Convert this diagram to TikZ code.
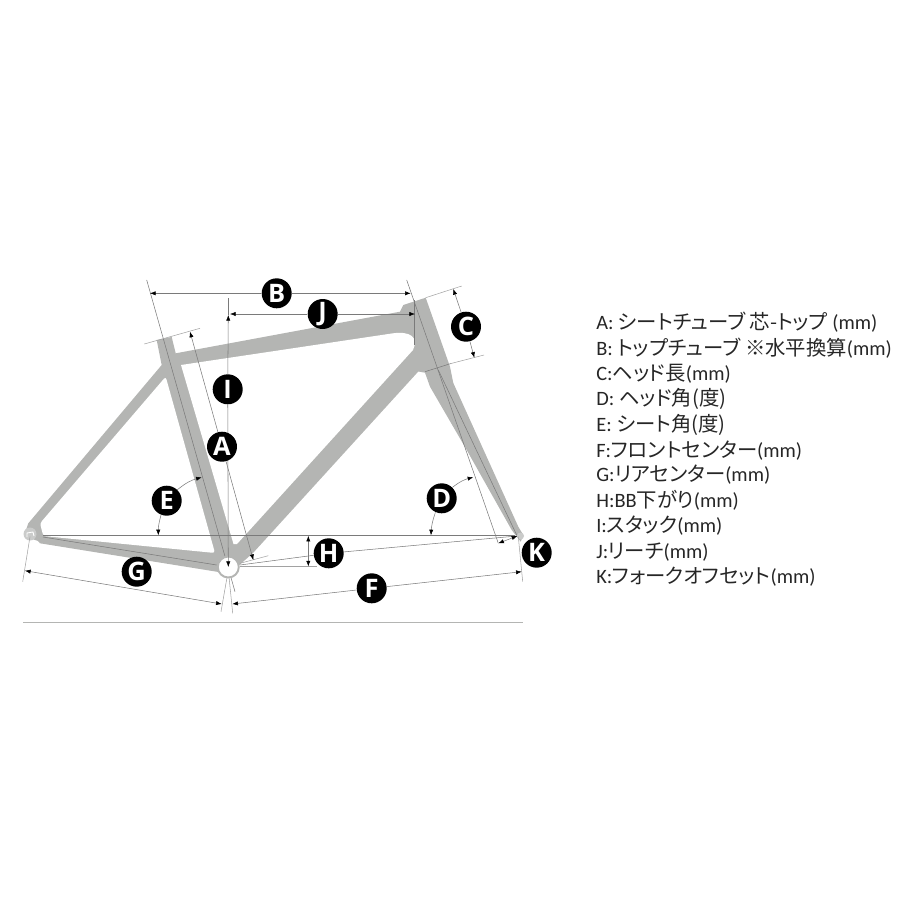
\documentclass[tikz,border=0pt]{standalone}
\usepackage{fontspec}
\setmainfont{Carlito}
\newfontfamily\jpfont[RawFeature=+palt]{Noto Sans CJK JP}
\newfontfamily\badgefont{Open Sans}
\usetikzlibrary{positioning, calc, arrows.meta}
\definecolor{framegray}{HTML}{B4B5B3}
\definecolor{linegray}{HTML}{7A7A7A}
\tikzset{
  badge/.style={circle, fill=black, text=white, minimum size=0.6cm, inner sep=0pt, font=\badgefont\bfseries\fontsize{14.5}{14.5}\selectfont},
  axisline/.style={draw=linegray, line width=0.3pt},
  tickline/.style={draw=linegray!70, line width=0.3pt},
  dimline/.style={draw=linegray, line width=0.3pt, -{Latex[length=3.2pt,width=2.4pt,black]}},
  dimboth/.style={draw=linegray, line width=0.3pt, {Latex[length=3.2pt,width=2.4pt,black]}-{Latex[length=3.2pt,width=2.4pt,black]}},
  spec/.style={anchor=west, inner sep=0pt, text=black!85, font=\fontsize{11.6}{13}\selectfont}
}
\newcommand{\jp}[1]{{\jpfont #1}}
\begin{document}
\begin{tikzpicture}[x=0.02cm,y=-0.02cm]
  \useasboundingbox (0,0) rectangle (900,900);

  % フレーム
  \fill[framegray] (156.7,340) -- (171.7,337) -- (175.7,353.3) -- (400,311.7) -- (403.3,305)
    -- (425.7,297.7) -- (450,366.7) -- (453.3,383) -- (518.3,526.7) -- (523.3,535) -- (520.7,541.7)
    -- (511.7,530) -- (466.7,450) -- (430,386.7) -- (425,372.7) -- (418.3,371.5) -- (253,553)
    -- (228,575) -- (216.7,571.7) -- (40,543.3) -- (38,541) -- (24,536) -- (28.3,523.3)
    -- (161.7,365) -- cycle;
  \fill[white,rounded corners=1.5pt] (165.7,376.7) -- (215,553) -- (43.3,536) -- (40,523.3) -- cycle;
  \fill[white] (181,365) -- (393,333.3) .. controls (410,331) and (419,337) .. (413,350)
    -- (237,544) -- (233.5,544) -- cycle;

  % エンド
  \fill[framegray!70] (30,534) circle[radius=6.5];
  \draw[white,line width=0.5pt] (27,537) -- (27,533) -- (33,532) -- (34,536);
  \fill[framegray!70] (520.5,536) circle[radius=3.5];

  % 基準線
  \draw[axisline] (43,535.3) -- (515,535.3);
  \draw[draw=framegray, line width=0.5pt] (23,622.5) -- (523,622.5);
  \draw[axisline] (146.7,280) -- (235,591.7);
  \draw[axisline] (406.7,280) -- (498.3,543.3);
  \draw[axisline] (438.3,370) -- (516.7,535);
  \draw[axisline] (414.3,300) -- (414.3,345);
  \draw[axisline] (43,537) -- (216.7,565);
  \draw[tickline] (144.3,344) -- (200,328.3);
  \draw[tickline] (240,563.3) -- (268.3,555.7);
  \draw[tickline] (425.7,297.7) -- (461.7,286);
  \draw[axisline] (425,371.7) -- (451,363.5);
  \draw[tickline] (451,363.5) -- (484,355);
  \draw[tickline] (518.3,536.7) -- (522.7,581.7);
  \draw[tickline] (228.3,570) -- (232.7,613.3);
  \draw[tickline] (228.3,570) -- (221,611.7);
  \draw[tickline] (30,536.7) -- (22.7,581.7);
  \draw[tickline] (240,566.7) -- (316.7,566.7);

  % BB
  \draw[draw=framegray, fill=white, line width=1.1pt] (228.3,567) circle[radius=10.5];

  % 寸法の端点
  \coordinate (Atop) at (190,331.7);
  \coordinate (Abot) at (253.3,560);
  \coordinate (Bl) at (150,293.3);
  \coordinate (Br) at (410.7,293.3);
  \coordinate (Ctop) at (453.3,289);
  \coordinate (Cbot) at (474.3,357.7);
  \coordinate (Dup) at (473.3,477.3);
  \coordinate (Ddn) at (431,535.3);
  \coordinate (Eup) at (201.7,477.3);
  \coordinate (Edn) at (158.3,535.3);
  \coordinate (Fl) at (232.3,604);
  \coordinate (Fr) at (521.7,571.7);
  \coordinate (Gl) at (25,570.7);
  \coordinate (Gr) at (221.7,604);
  \coordinate (Htop) at (308.3,535.8);
  \coordinate (Hbot) at (308.3,566.4);
  \coordinate (Hl) at (240,565);
  \coordinate (Hr) at (516.7,536);
  \coordinate (Itop) at (228.3,315);
  \coordinate (Iext) at (228.3,298);
  \coordinate (Ibot) at (228.3,567);
  \coordinate (Jl) at (230,314);
  \coordinate (Jr) at (415,314);
  \coordinate (Kl) at (498.3,543.3);
  \coordinate (Kr) at (517.3,536);

  % 寸法線と記号
  \node[badge] (nodeI) at (227.7,389.3) {I};
  \draw[axisline] (Iext) -- (Itop);
  \draw[dimline] (nodeI) -- (Itop);
  \draw[dimline] (nodeI) -- (Ibot);

  \node[badge] (nodeA) at (222,446.7) {A};
  \draw[dimline] (nodeA) -- (Atop);
  \draw[dimline] (nodeA) -- (Abot);

  \node[badge] (nodeB) at (276.7,293.3) {B};
  \draw[dimline] (nodeB) -- (Bl);
  \draw[dimline] (nodeB) -- (Br);

  \node[badge] (nodeJ) at (322.7,314) {J};
  \draw[dimline] (nodeJ) -- (Jl);
  \draw[dimline] (nodeJ) -- (Jr);

  \node[badge] (nodeC) at (466,326.7) {C};
  \draw[dimline] (nodeC) -- (Ctop);
  \draw[dimline] (nodeC) -- (Cbot);

  \node[badge] (nodeD) at (441.7,498.3) {D};
  \draw[dimline] (nodeD) to[bend left=12] (Dup);
  \draw[dimline] (nodeD) to[bend right=8] (Ddn);

  \node[badge] (nodeE) at (166.7,500.7) {E};
  \draw[dimline] (nodeE) to[bend left=12] (Eup);
  \draw[dimline] (nodeE) to[bend right=8] (Edn);

  \node[badge] (nodeF) at (371.7,588.3) {F};
  \draw[dimline] (nodeF) -- (Fl);
  \draw[dimline] (nodeF) -- (Fr);

  \draw[dimboth] (Gl) -- (Gr);
  \node[badge] (nodeG) at (136.7,571.7) {G};

  \node[badge] (nodeH) at (328.7,553.3) {H};
  \draw[axisline] (Hl) -- (nodeH);
  \draw[axisline] (nodeH) -- (Hr);
  \draw[dimboth] (Htop) -- (Hbot);

  \node[badge] (nodeK) at (536.7,552.7) {K};
  \draw[dimboth] (Kl) -- (Kr);

  % 項目の一覧
  \node[spec] (specA) at (596,322) {A: \jp{シートチューブ 芯-トップ} (mm)};
  \node[spec] (specB) at (596,348) {B: \jp{トップチューブ ※水平換算}(mm)};
  \node[spec] (specC) at (596,374) {C:\jp{ヘッド長}(mm)};
  \node[spec] (specD) at (596,399) {D: \jp{ヘッド角(度)}};
  \node[spec] (specE) at (596,425) {E: \jp{シート角(度)}};
  \node[spec] (specF) at (596,451) {F:\jp{フロントセンター}(mm)};
  \node[spec] (specG) at (596,475) {G:\jp{リアセンター}(mm)};
  \node[spec] (specH) at (596,500) {H:BB\jp{下がり}(mm)};
  \node[spec] (specI) at (596,526) {I:\jp{スタック}(mm)};
  \node[spec] (specJ) at (596,552) {J:\jp{リーチ}(mm)};
  \node[spec] (specK) at (596,577) {K:\jp{フォークオフセット}(mm)};
\end{tikzpicture}
\end{document}
